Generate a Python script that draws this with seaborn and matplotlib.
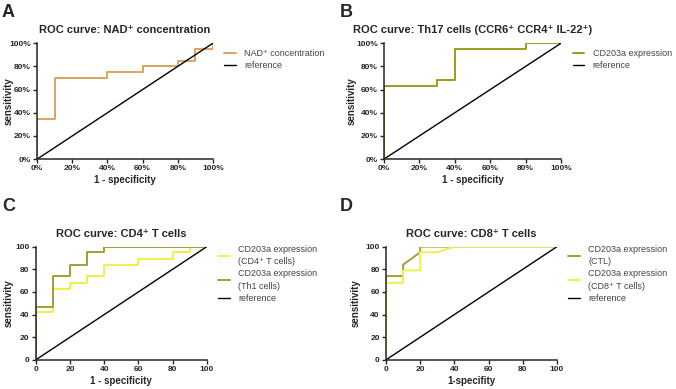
import numpy as np
import pandas as pd
import matplotlib.pyplot as plt
import seaborn as sns

# ROC curve vertices (1 - specificity, sensitivity), in percent
nad_fpr = [0, 0, 10, 10, 40, 40, 60, 60, 80, 80, 90, 90, 100, 100]
nad_tpr = [0, 35, 35, 70, 70, 75, 75, 80, 80, 85, 85, 95, 95, 100]

th17_fpr = [0, 0, 30, 30, 40, 40, 80, 80, 100]
th17_tpr = [0, 63, 63, 68, 68, 95, 95, 100, 100]

cd4_fpr = [0, 0, 10, 10, 20, 20, 30, 30, 40, 40, 60, 60, 80, 80, 90, 90, 100]
cd4_tpr = [0, 42, 42, 63, 63, 68, 68, 74, 74, 84, 84, 89, 89, 95, 95, 100, 100]

th1_fpr = [0, 0, 10, 10, 20, 20, 30, 30, 40, 40, 100]
th1_tpr = [0, 47, 47, 74, 74, 84, 84, 95, 95, 100, 100]

ctl_fpr = [0, 0, 10, 10, 20, 20, 100]
ctl_tpr = [0, 74, 74, 84, 95, 100, 100]

cd8_fpr = [0, 0, 10, 10, 20, 20, 30, 40, 100]
cd8_tpr = [0, 68, 68, 79, 79, 95, 95, 100, 100]

ref = [0, 100]
ticks = [0, 20, 40, 60, 80, 100]

sns.set_style('ticks')
plt.rcParams['font.family'] = ['Liberation Sans', 'DejaVu Sans']

fig = plt.figure(figsize=(6.76, 3.89), dpi=100)

panels = [
    dict(pos=[0.055, 0.591, 0.260, 0.298], letter='A', lpos=(0.003, 0.99),
         title='ROC curve: NAD⁺ concentration', xlabel='1 - specificity', pct=True,
         ylab_x=-0.135, leg_y=0.98,
         curves=[(nad_fpr, nad_tpr, 'NAD⁺ concentration', '#D9A45E')]),
    dict(pos=[0.568, 0.591, 0.262, 0.298], letter='B', lpos=(0.503, 0.99),
         title='ROC curve: Th17 cells (CCR6⁺ CCR4⁺ IL-22⁺)', xlabel='1 - specificity', pct=True,
         ylab_x=-0.152, leg_y=0.98,
         curves=[(th17_fpr, th17_tpr, 'CD203a expression', '#9B9B1E')]),
    dict(pos=[0.053, 0.075, 0.253, 0.291], letter='C', lpos=(0.003, 0.49),
         title='ROC curve: CD4⁺ T cells', xlabel='1 - specificity', pct=False,
         ylab_x=-0.13, leg_y=1.05,
         curves=[(cd4_fpr, cd4_tpr, 'CD203a expression\n(CD4⁺ T cells)', '#F0F048'),
                 (th1_fpr, th1_tpr, 'CD203a expression\n(Th1 cells)', '#A0A034')]),
    dict(pos=[0.571, 0.075, 0.253, 0.291], letter='D', lpos=(0.503, 0.49),
         title='ROC curve: CD8⁺ T cells', xlabel='1-specifity', pct=False,
         ylab_x=-0.15, leg_y=1.05,
         curves=[(ctl_fpr, ctl_tpr, 'CD203a expression\n(CTL)', '#A0A034'),
                 (cd8_fpr, cd8_tpr, 'CD203a expression\n(CD8⁺ T cells)', '#F0F048')]),
]

for p in panels:
    ax = fig.add_axes(p['pos'])
    for fpr, tpr, label, color in p['curves']:
        sns.lineplot(x=fpr, y=tpr, sort=False, estimator=None, ax=ax,
                     color=color, lw=1.4, label=label)
    sns.lineplot(x=ref, y=ref, sort=False, estimator=None, ax=ax,
                 color='black', lw=1.0, label='reference')
    ax.set_xlim(0, 100)
    ax.set_ylim(0, 100)
    ax.set_xticks(ticks)
    ax.set_yticks(ticks)
    if p['pct']:
        labs = [f'{t}%' for t in ticks]
    else:
        labs = [str(t) for t in ticks]
    ax.set_xticklabels(labs, fontsize=6, fontweight='bold')
    ax.set_yticklabels(labs, fontsize=6, fontweight='bold')
    ax.tick_params(length=3, width=1, pad=1.5)
    for s in ['left', 'bottom']:
        ax.spines[s].set_linewidth(1.1)
    sns.despine(ax=ax)
    ax.set_xlabel(p['xlabel'], fontsize=7, fontweight='bold', labelpad=2)
    ax.set_ylabel('sensitivity', fontsize=7, fontweight='bold')
    ax.yaxis.set_label_coords(p['ylab_x'], 0.5)
    ax.set_title(p['title'], fontsize=8, fontweight='bold', pad=7)
    leg = ax.legend(loc='upper left', bbox_to_anchor=(1.045, p['leg_y']), frameon=False,
                    fontsize=6.5, handlelength=1.3, handletextpad=0.9,
                    labelspacing=0.35, labelcolor='#444444', borderaxespad=0)
    for t in leg.get_texts():
        t.set_linespacing(1.5)
    fig.text(p['lpos'][0], p['lpos'][1], p['letter'], fontsize=13,
             fontweight='bold', va='top', ha='left')

fig.savefig('out.png', dpi=100)
